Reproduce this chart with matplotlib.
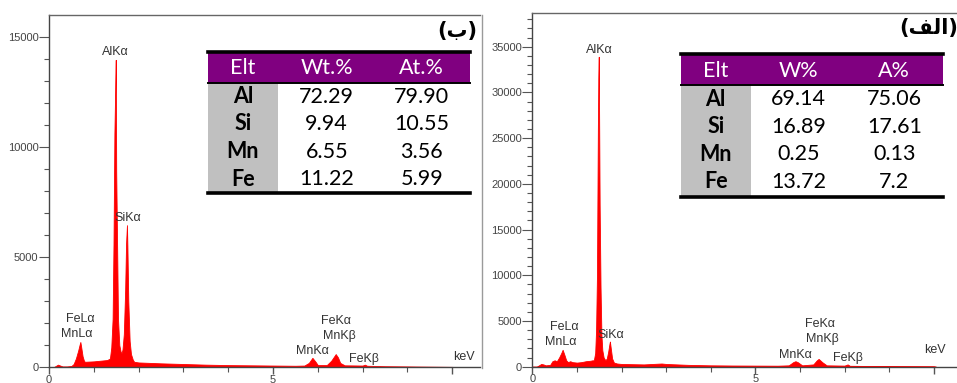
import matplotlib
matplotlib.use('Agg')
import matplotlib.pyplot as plt
from matplotlib.patches import Rectangle
from matplotlib.lines import Line2D
from matplotlib.ticker import MultipleLocator, FixedLocator

# spectrum (b), keV / counts
kev_b = [0.0, 0.1, 0.15, 0.2, 0.25, 0.3, 0.4, 0.5, 0.55, 0.6, 0.65, 0.68, 0.7, 0.72, 0.75, 0.78,
         0.8, 0.9, 1.0, 1.1, 1.2, 1.3, 1.36, 1.39, 1.42, 1.44, 1.46, 1.48, 1.49, 1.50, 1.52,
         1.54, 1.57, 1.60, 1.62, 1.64, 1.67, 1.70, 1.72, 1.74, 1.75, 1.77, 1.80, 1.83, 1.87,
         1.9, 2.0, 2.5, 3.0, 3.5, 4.0, 4.5, 5.0, 5.5, 5.7, 5.8, 5.88, 5.95, 6.0, 6.2, 6.3,
         6.4, 6.45, 6.5, 6.6, 7.0, 7.05, 7.1, 7.5, 8.0, 8.5, 9.0, 9.1]
cnt_b = [0, 0, 60, 120, 80, 40, 40, 60, 150, 400, 750, 1000, 1150, 900, 500, 300,
         250, 260, 270, 290, 310, 330, 400, 900, 2200, 5600, 10600, 12900, 13950, 8900, 5600,
         2200, 1000, 700, 650, 800, 1500, 3500, 5600, 6450, 5500, 3000, 1200, 600, 350,
         250, 220, 180, 150, 120, 100, 90, 80, 70, 80, 200, 430, 250, 100, 100, 300,
         600, 450, 200, 90, 80, 120, 70, 50, 40, 30, 20, 0]

# spectrum (a)
kev_a = [0.0, 0.1, 0.15, 0.2, 0.25, 0.3, 0.4, 0.45, 0.5, 0.55, 0.6, 0.65, 0.68, 0.72, 0.76,
         0.8, 0.85, 0.9, 1.0, 1.1, 1.2, 1.3, 1.35, 1.38, 1.41, 1.43, 1.45, 1.47, 1.48, 1.49,
         1.50, 1.51, 1.53, 1.55, 1.57, 1.60, 1.64, 1.67, 1.70, 1.73, 1.74, 1.76, 1.79, 1.83,
         1.9, 2.0, 2.5, 2.9, 3.0, 3.5, 4.0, 4.5, 5.0, 5.5, 5.75, 5.85, 5.9, 5.95, 6.05, 6.3,
         6.38, 6.42, 6.5, 6.6, 7.0, 7.07, 7.12, 7.5, 8.0, 8.5, 9.0, 9.05]
cnt_a = [0, 0, 150, 300, 250, 150, 200, 600, 700, 600, 1000, 1500, 1850, 1300, 700,
         500, 600, 500, 450, 500, 600, 650, 700, 700, 1500, 4000, 10000, 26000, 31500, 33900,
         26000, 17700, 8700, 3500, 1800, 1000, 700, 900, 1600, 2500, 2750, 2000, 900, 450,
         350, 300, 250, 350, 300, 200, 150, 130, 120, 110, 150, 500, 600, 500, 150, 250,
         700, 850, 500, 150, 120, 250, 100, 80, 60, 50, 40, 0]

# peak labels: text, keV, counts
peaks_b = [('AlKα', 1.49, 14290), ('SiKα', 1.76, 6770), ('FeLα', 0.71, 2190), ('MnLα', 0.63, 1500),
           ('MnKα', 5.89, 750), ('FeKα', 6.41, 2115), ('MnKβ', 6.48, 1420), ('FeKβ', 7.04, 380),
           ('keV', 9.27, 480)]
peaks_a = [('AlKα', 1.495, 34640), ('SiKα', 1.76, 3430), ('FeLα', 0.72, 4310), ('MnLα', 0.63, 2670),
           ('MnKα', 5.91, 1310), ('FeKα', 6.44, 4670), ('MnKβ', 6.50, 3000), ('FeKβ', 7.07, 950),
           ('keV', 9.03, 1860)]

elements = ['Al', 'Si', 'Mn', 'Fe']
wt_b = ['72.29', '9.94', '6.55', '11.22']
at_b = ['79.90', '10.55', '3.56', '5.99']
w_a = ['69.14', '16.89', '0.25', '13.72']
a_a = ['75.06', '17.61', '0.13', '7.2']

W, H = 957, 383
fig = plt.figure(figsize=(W / 100, H / 100), dpi=100)


def fx(x):
    return x / W


def fy(y):
    return 1 - y / H


def spectrum(rect, kev, cnt, xmax, ymax, ystep, peaks):
    ax = fig.add_axes(rect)
    ax.fill_between(kev, 0, cnt, color='#ff0000', lw=0.6, edgecolor='#ff0000')
    ax.set_xlim(0, xmax)
    ax.set_ylim(0, ymax)
    ax.spines['right'].set_visible(False)
    for s in ['left', 'bottom', 'top']:
        ax.spines[s].set_color('#444444')
        ax.spines[s].set_linewidth(1.0)
    ax.spines['top'].set_color('#666666')
    ax.yaxis.set_major_locator(MultipleLocator(ystep))
    ax.yaxis.set_minor_locator(MultipleLocator(1000))
    ax.xaxis.set_major_locator(FixedLocator([0, 5, 9]))
    ax.xaxis.set_minor_locator(MultipleLocator(1))
    ax.set_xticklabels(['0', '5', ''])
    ax.tick_params(axis='y', which='major', length=7.5, width=0.8, pad=0, color='#555555',
                   labelsize=8, labelcolor='#444444')
    ax.tick_params(axis='y', which='minor', length=3.5, width=0.8, color='#555555')
    ax.tick_params(axis='x', which='major', length=5, width=1.0, pad=0.5, color='#555555',
                   labelsize=8, labelcolor='#444444')
    ax.tick_params(axis='x', which='minor', length=3.5, width=0.8, color='#555555')
    for lab in ax.get_xticklabels() + ax.get_yticklabels():
        lab.set_fontfamily('Liberation Sans')
    for txt, x, y in peaks:
        ax.text(x, y, txt, ha='center', va='center', fontsize=9, color='#333333',
                family='Liberation Sans')
    return ax


axL = spectrum([fx(49), 1 - 367.3 / H, fx(480 - 49), (367.3 - 15) / H],
               kev_b, cnt_b, (480 - 49) / 44.8, 15985, 5000, peaks_b)
axR = spectrum([fx(532.3), 1 - 366.7 / H, fx(957 - 532.3), (366.7 - 12.7) / H],
               kev_a, cnt_a, (957 - 532.3) / 44.6, 38720, 5000, peaks_a)

# thin frame line of the right picture
fig.add_artist(Line2D([fx(481.5), fx(481.5)], [fy(15), fy(368)], color='#9a9a9a', lw=1.0))


def table(x0, x1, top, hbot, bot, gright, cols, hy, rows_y, headers, c1, c2):
    fig.add_artist(Rectangle((fx(x0), fy(hbot)), fx(x1 - x0), (hbot - top) / H,
                             transform=fig.transFigure, facecolor='#800080', edgecolor='none'))
    fig.add_artist(Rectangle((fx(x0), fy(bot)), fx(gright - x0), (bot - hbot) / H,
                             transform=fig.transFigure, facecolor='#c0c0c0', edgecolor='none'))
    fig.add_artist(Line2D([fx(x0), fx(x1)], [fy(top), fy(top)], color='black', lw=2.6))
    fig.add_artist(Line2D([fx(x0), fx(x1)], [fy(hbot), fy(hbot)], color='black', lw=1.4))
    fig.add_artist(Line2D([fx(x0), fx(x1)], [fy(bot), fy(bot)], color='black', lw=2.6))
    fs = 15.5
    for cx, h in zip(cols, headers):
        fig.text(fx(cx), fy(hy), h, ha='center', va='center', color='white',
                 fontsize=fs, family='Lato')
    for i, ry in enumerate(rows_y):
        fig.text(fx(cols[0]), fy(ry), elements[i], ha='center', va='center', color='black',
                 fontsize=fs, family='Lato', weight='bold')
        fig.text(fx(cols[1]), fy(ry), c1[i], ha='center', va='center', color='black',
                 fontsize=fs, family='Lato')
        fig.text(fx(cols[2]), fy(ry), c2[i], ha='center', va='center', color='black',
                 fontsize=fs, family='Lato')


table(208.3, 470, 51.7, 82.7, 193.3, 278, [243, 326.7, 421.7], 68.3,
      [96.7, 124, 151.7, 179], ['Elt', 'Wt.%', 'At.%'], wt_b, at_b)
table(681, 943.3, 54.3, 85, 196.7, 750.7, [715.7, 798.3, 894.3], 71,
      [99.3, 126.7, 154.3, 181.7], ['Elt', 'W%', 'A%'], w_a, a_a)

# panel letters (Arabic, written in visual order with presentation forms)
fig.text(fx(457.5), fy(31), '(ب)', ha='center', va='center', fontsize=15,
         weight='bold', family='DejaVu Sans')
fig.text(fx(928.5), fy(28), '(\ufed2\ufedf\ufe8d)', ha='center', va='center', fontsize=15,
         weight='bold', family='DejaVu Sans')

fig.savefig('out.png', dpi=100)
